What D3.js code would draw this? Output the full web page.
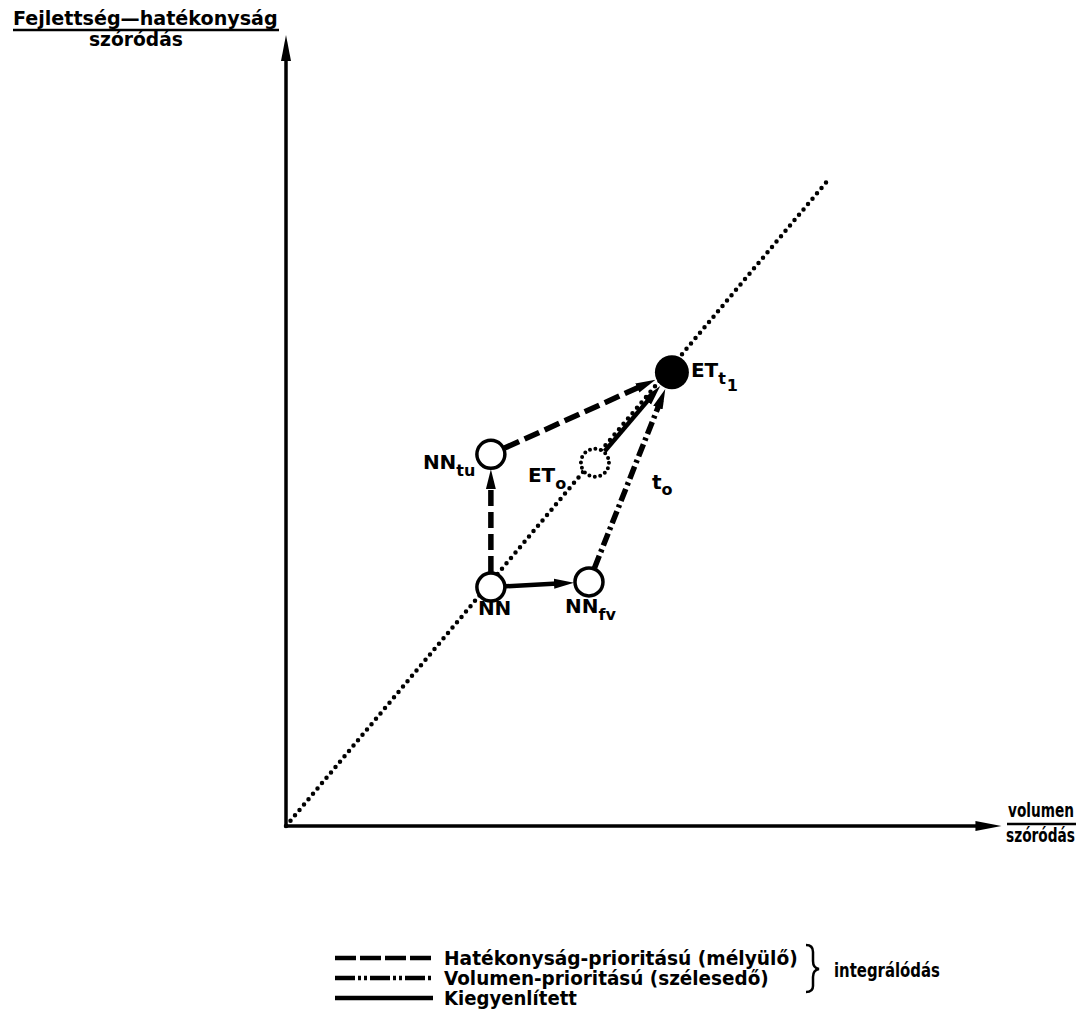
<!DOCTYPE html>
<html>
<head>
<meta charset="utf-8">
<script src="https://cdn.jsdelivr.net/npm/d3@7"></script>
<style>
  html, body { margin: 0; padding: 0; background: #fff; }
  svg { display: block; }
  text { font-family: "DejaVu Sans", "Noto Sans", sans-serif; font-weight: bold; fill: #000; }
</style>
</head>
<body>
<script>
// ---------- data ----------
const nodeNames  = ["NN", "NN_tu", "ET_0", "ET_t1", "NN_fv"];
const nodeX      = [37.8, 37.8, 57.0, 71.2, 55.9];
const nodeY      = [36.7, 57.1, 55.8, 69.7, 37.5];
const nodeKind   = ["open", "open", "dotted", "filled", "open"];

const arrowFrom  = [0, 1, 0, 4, 2];
const arrowTo    = [1, 3, 4, 3, 3];
const arrowStyle = ["dashed", "dashed", "solid", "dashdot", "solid"];

const diagonalX  = [0, 100];
const diagonalY  = [0, 99.2];

const yTitle     = ["Fejlettség—hatékonyság", "szóródás"];
const xTitle     = ["volumen", "szóródás"];

const legendLabels = ["Hatékonyság-prioritású (mélyülő)", "Volumen-prioritású (szélesedő)", "Kiegyenlített"];
const legendStyles = ["dashed", "dashdot", "solid"];
const braceLabel   = "integrálódás";

// ---------- setup ----------
const W = 1081, H = 1018;
const svg = d3.select("body").append("svg").attr("width", W).attr("height", H);

const x = d3.scaleLinear().domain([0, 100]).range([286, 828]);
const y = d3.scaleLinear().domain([0, 100]).range([826, 175]);

const dash = {
  dashed:  "16,6",
  dashdot: "13,4,3,4",
  solid:   null
};

const defs = svg.append("defs");
defs.append("marker").attr("id", "head")
  .attr("markerUnits", "userSpaceOnUse")
  .attr("viewBox", "0 -6 20 12").attr("refX", 20).attr("refY", 0)
  .attr("markerWidth", 20).attr("markerHeight", 12).attr("orient", "auto")
  .append("path").attr("d", "M0,-5 L20,0 L0,5 Z").attr("fill", "#000");

// fit a text horizontally into a given width with a transform
function fitText(str, x0, y0, size, width) {
  const t = svg.append("text").attr("font-size", size).text(str);
  const w = t.node().getComputedTextLength();
  t.attr("transform", `translate(${x0},${y0}) scale(${width / w},1)`);
  return t;
}

// ---------- axes ----------
const xAxisEnd = 132, yAxisEnd = 121.5;
svg.append("line").attr("x1", x(0)).attr("y1", y(0)).attr("x2", x(xAxisEnd) - 20).attr("y2", y(0))
  .attr("stroke", "#000").attr("stroke-width", 3.5);
svg.append("path")
  .attr("d", `M${x(xAxisEnd)},${y(0)} L${x(xAxisEnd) - 26},${y(0) - 5} L${x(xAxisEnd) - 26},${y(0) + 5} Z`)
  .attr("fill", "#000");
svg.append("line").attr("x1", x(0)).attr("y1", y(0) + 1.5).attr("x2", x(0)).attr("y2", y(yAxisEnd) + 20)
  .attr("stroke", "#000").attr("stroke-width", 3.5);
svg.append("path")
  .attr("d", `M${x(0)},${y(yAxisEnd)} L${x(0) - 5},${y(yAxisEnd) + 26} L${x(0) + 5},${y(yAxisEnd) + 26} Z`)
  .attr("fill", "#000");

// y axis title
fitText(yTitle[0], 13, 25, 19, 265);
svg.append("line").attr("x1", 13).attr("x2", 279).attr("y1", 30).attr("y2", 30)
  .attr("stroke", "#000").attr("stroke-width", 2.5);
fitText(yTitle[1], 89, 46, 19, 94);

// x axis title
fitText(xTitle[0], 1008, 817, 19, 66);
svg.append("line").attr("x1", 1007).attr("x2", 1076).attr("y1", 824).attr("y2", 824)
  .attr("stroke", "#000").attr("stroke-width", 2.5);
fitText(xTitle[1], 1006, 842, 19, 69);

// ---------- diagonal dotted line ----------
svg.append("line")
  .attr("x1", x(diagonalX[0])).attr("y1", y(diagonalY[0]))
  .attr("x2", x(diagonalX[1])).attr("y2", y(diagonalY[1]))
  .attr("stroke", "#000").attr("stroke-width", 4.5)
  .attr("stroke-dasharray", "0,7").attr("stroke-linecap", "round");

// ---------- arrows ----------
const radius = i => nodeKind[i] === "filled" ? 17 : 14;
arrowFrom.forEach((f, k) => {
  const t = arrowTo[k];
  const x1 = x(nodeX[f]), y1 = y(nodeY[f]), x2 = x(nodeX[t]), y2 = y(nodeY[t]);
  const L = Math.hypot(x2 - x1, y2 - y1);
  const ux = (x2 - x1) / L, uy = (y2 - y1) / L;
  const s = radius(f) + 1, e = radius(t) + 1;
  const st = arrowStyle[k];
  svg.append("line")
    .attr("x1", x1 + ux * s).attr("y1", y1 + uy * s)
    .attr("x2", x2 - ux * (e + 12)).attr("y2", y2 - uy * (e + 12))
    .attr("stroke", "#000").attr("stroke-width", st === "solid" ? 4.5 : 5.5)
    .attr("stroke-dasharray", dash[st]);
  svg.append("line")
    .attr("x1", x2 - ux * (e + 14)).attr("y1", y2 - uy * (e + 14))
    .attr("x2", x2 - ux * e).attr("y2", y2 - uy * e)
    .attr("stroke", "none")
    .attr("marker-end", "url(#head)");
});

// ---------- nodes ----------
nodeNames.forEach((n, i) => {
  const c = svg.append("circle").attr("cx", x(nodeX[i])).attr("cy", y(nodeY[i])).attr("r", radius(i));
  if (nodeKind[i] === "filled") c.attr("fill", "#000");
  else if (nodeKind[i] === "dotted") c.attr("fill", "#fff").attr("stroke", "#000").attr("stroke-width", 4)
      .attr("stroke-dasharray", "0,5.5").attr("stroke-linecap", "round");
  else c.attr("fill", "#fff").attr("stroke", "#000").attr("stroke-width", 3.5);
});

// ---------- node labels ----------
function label(i, dx, dy, main, sub, sub2) {
  const bx = x(nodeX[i]) + dx, by = y(nodeY[i]) + dy;
  const t = svg.append("text").attr("x", bx).attr("y", by).attr("font-size", 20);
  t.append("tspan").text(main);
  if (sub) t.append("tspan").attr("font-size", 16).attr("dy", 7).text(sub);
  if (sub2) t.append("tspan").attr("font-size", 16).attr("dy", 7).attr("dx", 1).text(sub2);
}
label(0, -13, 28, "NN");
label(1, -68, 15, "NN", "tu");
label(2, -67, 19, "ET", "o");
label(3, 19, 5, "ET", "t", "1");
label(4, -24, 31, "NN", "fv");
svg.append("text").attr("x", x(nodeX[3]) - 20).attr("y", y(nodeY[3]) + 117).attr("font-size", 20)
  .call(t => { t.append("tspan").text("t"); t.append("tspan").attr("font-size", 16).attr("dy", 6).text("o"); });

// ---------- legend ----------
const lx0 = 335, lx1 = 433, ly0 = 958, lstep = 20;
legendLabels.forEach((lab, i) => {
  const yy = ly0 + i * lstep;
  svg.append("line").attr("x1", lx0).attr("x2", lx1).attr("y1", yy).attr("y2", yy)
    .attr("stroke", "#000").attr("stroke-width", 4.5)
    .attr("stroke-dasharray", legendStyles[i] === "dashed" ? "21,4" : legendStyles[i] === "dashdot" ? "20,3,3,3,3,3" : null);
  fitText(lab, 444, yy + 7, 19, [354, 325, 133][i]);
});
svg.append("path")
  .attr("d", "M806,945 Q813,945 813,952 L813,961 Q813,968 819,969 Q813,970 813,977 L813,986 Q813,992 806,992")
  .attr("fill", "none").attr("stroke", "#000").attr("stroke-width", 2.5);
fitText(braceLabel, 834, 977, 19, 106);
</script>
</body>
</html>
